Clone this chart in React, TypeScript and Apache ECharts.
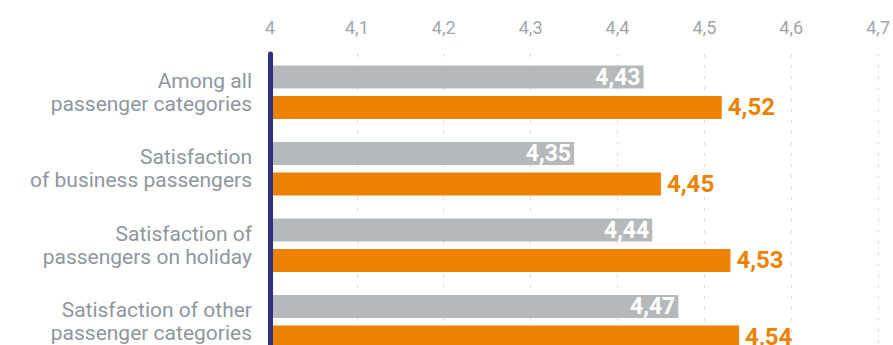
import React, { useEffect, useRef } from "react";
import * as echarts from "echarts";

const categories = [
  "Among all\npassenger categories",
  "Satisfaction\nof business passengers",
  "Satisfaction of\npassengers on holiday",
  "Satisfaction of other\npassenger categories",
];
const previousValues = [4.43, 4.35, 4.44, 4.47];
const currentValues = [4.52, 4.45, 4.53, 4.54];
const axisMin = 4;
const axisMax = 4.7;
const axisStep = 0.1;

const comma = (s: string) => s.replace(".", ",");

export default function App() {
  const ref = useRef<HTMLDivElement>(null);
  useEffect(() => {
    if (!ref.current) return;
    document.body.style.overflow = "hidden";
    const chart = echarts.init(ref.current, undefined, { renderer: "svg" });
    chart.setOption({
      animation: false,
      backgroundColor: "#ffffff",
      grid: { left: 270, right: 9, top: 54, bottom: 0, containLabel: false },
      xAxis: {
        type: "value",
        position: "top",
        min: axisMin,
        max: axisMax,
        interval: axisStep,
        axisLine: { show: false },
        axisTick: { show: false },
        axisLabel: {
          margin: 18,
          color: "#a0a6ac",
          fontFamily: "Roboto",
          fontSize: 18,
          formatter: (v: number) => comma(String(Math.round(v * 10) / 10)),
        },
        splitLine: {
          show: true,
          lineStyle: { color: "#dcdcdc", width: 1, type: [3, 8] },
        },
      },
      yAxis: {
        type: "category",
        inverse: true,
        data: categories,
        z: 5,
        axisLine: { show: true, lineStyle: { color: "#2e3080", width: 5 } },
        axisTick: { show: false },
        axisLabel: {
          margin: 18,
          color: "#8e969e",
          fontFamily: "Roboto",
          fontSize: 21,
          lineHeight: 23,
          align: "right",
        },
      },
      series: [
        {
          type: "bar",
          data: previousValues,
          barWidth: 23,
          barGap: "32%",
          itemStyle: { color: "#b5b9bc" },
          label: {
            show: true,
            position: "insideRight",
            distance: 3,
            color: "#ffffff",
            fontFamily: "Roboto",
            fontWeight: "bold",
            fontSize: 23,
            formatter: (p: any) => comma(p.value.toFixed(2)),
          },
        },
        {
          type: "bar",
          data: currentValues,
          barWidth: 23,
          barGap: "32%",
          itemStyle: { color: "#ec8200" },
          label: {
            show: true,
            position: "right",
            distance: 6,
            color: "#ec8200",
            fontFamily: "Roboto",
            fontWeight: "bold",
            fontSize: 24,
            formatter: (p: any) => comma(p.value.toFixed(2)),
          },
        },
      ],
    });
    return () => chart.dispose();
  }, []);
  return (
    <div
      ref={ref}
      style={{ position: "fixed", left: 0, top: 0, width: 893, height: 360 }}
    />
  );
}
